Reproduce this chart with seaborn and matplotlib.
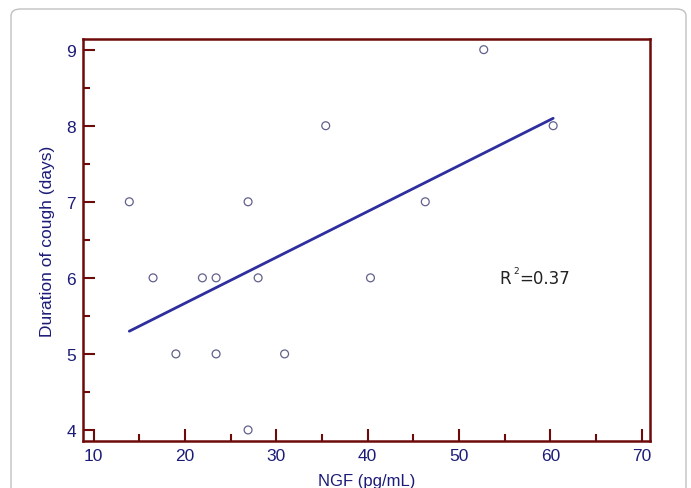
import matplotlib
matplotlib.use("Agg")
import matplotlib.pyplot as plt
import seaborn as sns
import numpy as np
import pandas as pd
from matplotlib.patches import FancyBboxPatch
from matplotlib.ticker import MultipleLocator

ngf = [13.9, 16.5, 19.0, 21.9, 23.4, 23.4, 26.9, 26.9, 28.0, 30.9, 35.4, 40.3, 46.3, 52.7, 60.3]
cough = [7, 6, 5, 6, 6, 5, 7, 4, 6, 5, 8, 6, 7, 9, 8]

df = pd.DataFrame({"ngf": ngf, "cough": cough})

sns.set_theme(style="white")
plt.rcParams["font.family"] = ["Liberation Sans", "DejaVu Sans"]

navy = "#1c1c78"
frame = "#6e0a0a"
line_c = "#2e2e9e"

fig = plt.figure(figsize=(6.91, 4.89), dpi=100)
ax = fig.add_axes([83/691, 1-442/489, (650-83)/691, (442-40)/489])

border = FancyBboxPatch((11/691, -20/489), 675/691, 499/489,
                        boxstyle="round,pad=0,rounding_size=0.014",
                        transform=fig.transFigure, facecolor="none",
                        edgecolor="#c0c0c0", linewidth=1.0)
fig.patches.append(border)

sns.regplot(data=df, x="ngf", y="cough", ax=ax, ci=None,
            scatter_kws=dict(s=32, facecolors="none", edgecolors="#3a3a70", linewidths=0.9),
            line_kws=dict(color=line_c, linewidth=2.0))

ax.set_xlim(8.83, 70.9)
ax.set_ylim(3.855, 9.14)
ax.xaxis.set_major_locator(MultipleLocator(10))
ax.xaxis.set_minor_locator(MultipleLocator(5))
ax.yaxis.set_major_locator(MultipleLocator(1))
ax.yaxis.set_minor_locator(MultipleLocator(0.5))

ax.tick_params(axis="both", which="major", direction="in", length=8.5, width=1.5,
               color=frame, labelcolor=navy, labelsize=12.5, pad=5)
ax.tick_params(axis="both", which="minor", direction="in", length=5, width=1.5, color=frame)
ax.tick_params(axis="x", which="both", bottom=True, top=False)
ax.tick_params(axis="y", which="both", left=True, right=False)

for s in ax.spines.values():
    s.set_color(frame)
    s.set_linewidth(1.8)
    s.set_visible(True)

ax.set_xlabel("NGF (pg/mL)", color=navy, fontsize=12, labelpad=7)
ax.set_ylabel("Duration of cough (days)", color=navy, fontsize=12.5, labelpad=8)

ax.text(54.4, 6.0, "R", color="#222222", fontsize=12, ha="left", va="center",
        family="DejaVu Sans")
ax.text(55.9, 6.1, "2", color="#222222", fontsize=6.5, ha="left", va="center",
        family="DejaVu Sans")
ax.text(56.6, 6.0, "=0.37", color="#222222", fontsize=12, ha="left", va="center",
        family="DejaVu Sans")

fig.savefig("out.png", dpi=100, facecolor="white")
